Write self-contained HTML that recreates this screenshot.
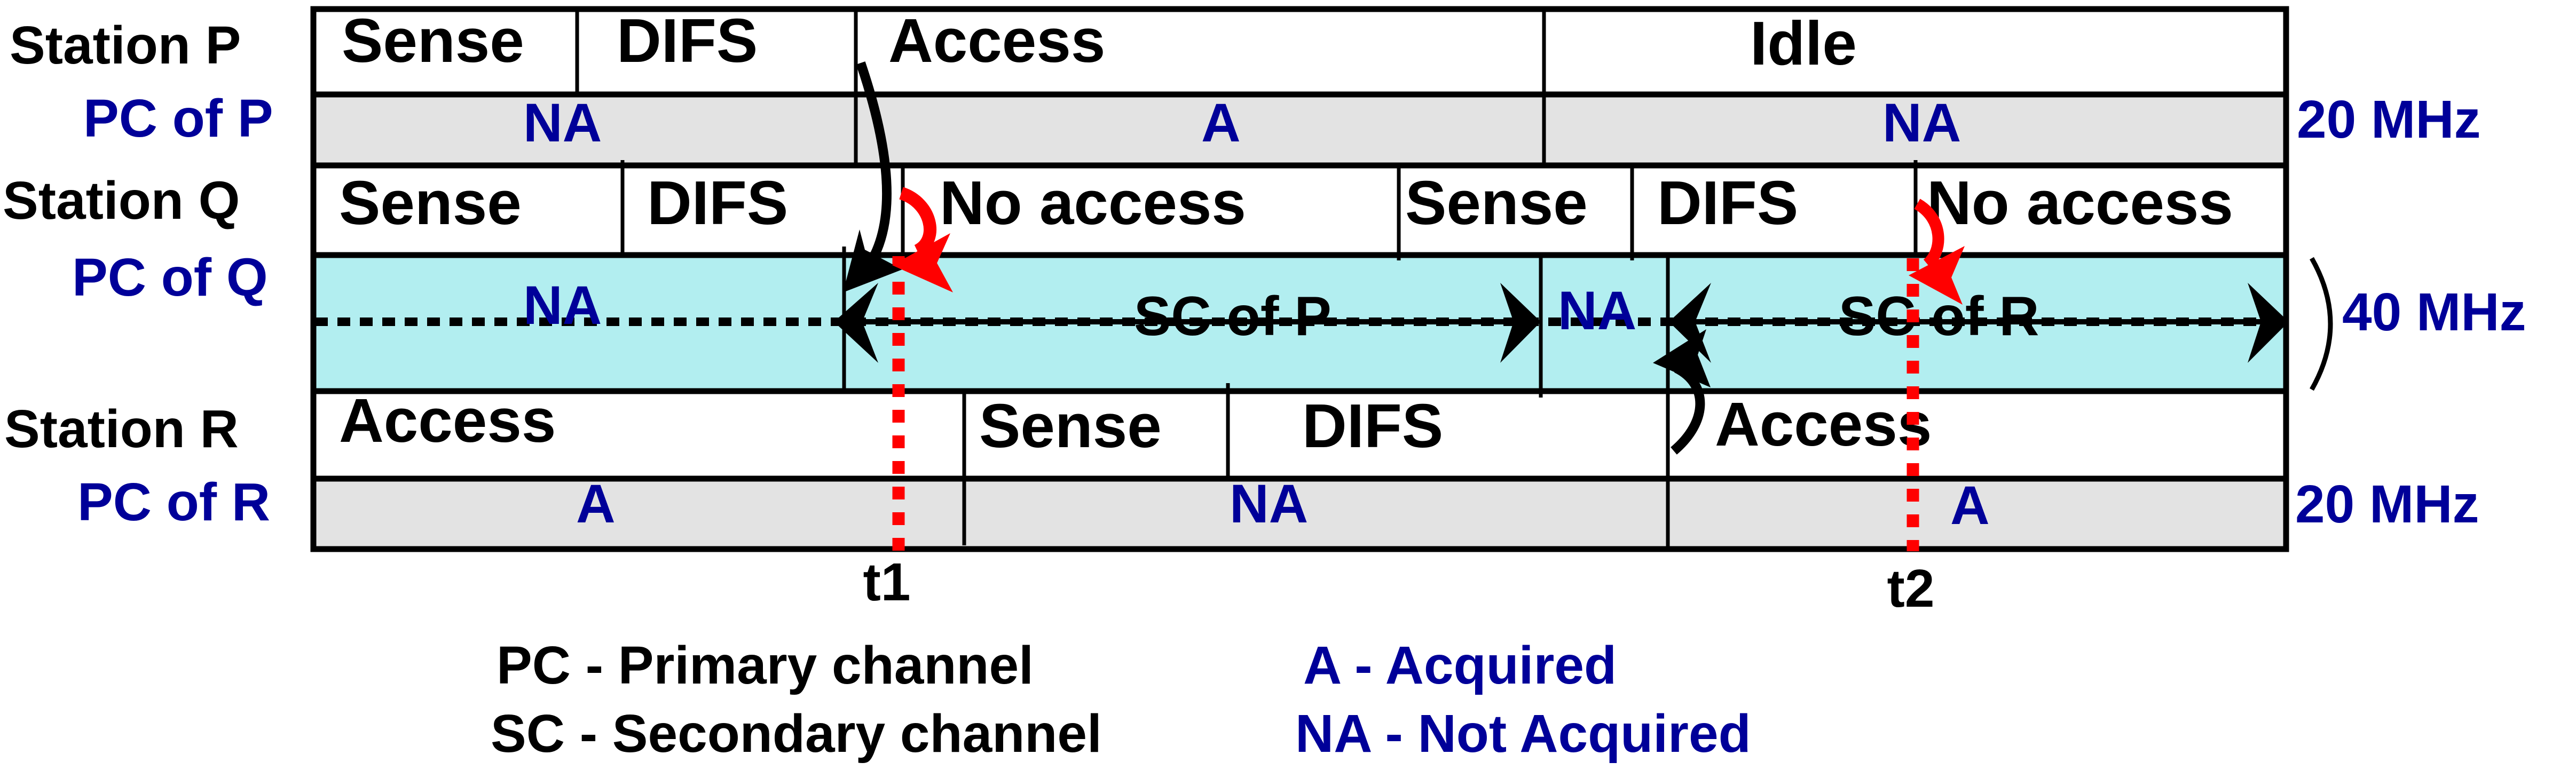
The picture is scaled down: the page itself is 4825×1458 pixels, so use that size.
<!DOCTYPE html>
<html><head><meta charset="utf-8"><style>
html,body{margin:0;padding:0;background:#fff;}
svg{display:block;}
text{font-family:"Liberation Sans",sans-serif;font-weight:bold;}
.k{fill:#000;font-size:116px;}
.s{fill:#000;font-size:100px;}
.b{fill:#000099;font-size:102px;}
</style></head><body>
<svg width="4825" height="1458" viewBox="0 0 4825 1458" xmlns="http://www.w3.org/2000/svg">
<rect x="582" y="13" width="3705" height="1020" fill="#fff"/>
<rect x="582" y="177" width="3705" height="133" fill="#e3e3e3"/>
<rect x="582" y="478" width="3705" height="255" fill="#b2eef0"/>
<rect x="582" y="897" width="3705" height="136" fill="#e3e3e3"/>
<g stroke="#000" stroke-width="11" fill="none">
<rect x="587" y="17" width="3695" height="1012"/>
<line x1="582" y1="177" x2="4287" y2="177"/>
<line x1="582" y1="310" x2="4287" y2="310"/>
<line x1="582" y1="478" x2="4287" y2="478"/>
<line x1="582" y1="733" x2="4287" y2="733"/>
<line x1="582" y1="897" x2="4287" y2="897"/>
</g>
<g stroke="#000" stroke-width="7">
<line x1="1081" y1="13" x2="1081" y2="177"/>
<line x1="1603" y1="13" x2="1603" y2="310"/>
<line x1="2892" y1="13" x2="2892" y2="310"/>
<line x1="1166" y1="300" x2="1166" y2="478"/>
<line x1="1691" y1="310" x2="1691" y2="478"/>
<line x1="2620" y1="310" x2="2620" y2="488"/>
<line x1="3057" y1="310" x2="3057" y2="488"/>
<line x1="3588" y1="300" x2="3588" y2="478"/>
<line x1="1581" y1="462" x2="1581" y2="733"/>
<line x1="2886" y1="478" x2="2886" y2="745"/>
<line x1="3124" y1="478" x2="3124" y2="1033"/>
<line x1="1806" y1="733" x2="1806" y2="1022"/>
<line x1="2300" y1="718" x2="2300" y2="897"/>
</g>
<line x1="590" y1="603" x2="4287" y2="603" stroke="#000" stroke-width="16" stroke-dasharray="24 18"/>
<g stroke="#000" stroke-width="10">
<line x1="1600" y1="603" x2="2870" y2="603"/>
<line x1="3140" y1="603" x2="4270" y2="603"/>
</g>
<g fill="#000">
<polygon points="1562,603 1645,530 1615,603 1645,680"/>
<polygon points="2886,603 2810,530 2835,603 2810,680"/>
<polygon points="3126,603 3205,530 3175,603 3205,680"/>
<polygon points="4287,603 4210,530 4235,603 4210,680"/>
</g>
<text class="s" x="18" y="119">Station P</text>
<text class="b" x="156" y="256" style="font-size:100px">PC of P</text>
<text class="s" x="5" y="410">Station Q</text>
<text class="b" x="135" y="554" style="font-size:100px">PC of Q</text>
<text class="s" x="8" y="838">Station R</text>
<text class="b" x="145" y="975" style="font-size:100px">PC of R</text>

<text class="k" x="640" y="116">Sense</text>
<text class="k" x="1155" y="116">DIFS</text>
<text class="k" x="1664" y="116">Access</text>
<text class="k" x="3278" y="121">Idle</text>
<text class="b" x="980" y="265">NA</text>
<text class="b" x="2250" y="265">A</text>
<text class="b" x="3526" y="265">NA</text>

<text class="k" x="635" y="420">Sense</text>
<text class="k" x="1212" y="420">DIFS</text>
<text class="k" x="1760" y="420">No access</text>
<text class="k" x="2632" y="420">Sense</text>
<text class="k" x="3104" y="420">DIFS</text>
<text class="k" x="3609" y="420">No access</text>

<text class="b" x="980" y="607">NA</text>
<text class="s" x="2124" y="628" style="font-size:104px">SC of P</text>
<text class="b" x="2918" y="617">NA</text>
<text class="s" x="3444" y="628" style="font-size:104px">SC of R</text>

<text class="k" x="635" y="828">Access</text>
<text class="k" x="1834" y="838">Sense</text>
<text class="k" x="2439" y="838">DIFS</text>
<text class="k" x="3212" y="835">Access</text>

<text class="b" x="1079" y="979">A</text>
<text class="b" x="2303" y="979">NA</text>
<text class="b" x="3653" y="982">A</text>

<text class="b" x="4302" y="258" style="font-size:100px">20 MHz</text>
<text class="b" x="4387" y="619" style="font-size:100px">40 MHz</text>
<text class="b" x="4299" y="979" style="font-size:100px">20 MHz</text>

<text class="s" x="1661" y="1125" text-anchor="middle">t1</text>
<text class="s" x="3579" y="1137" text-anchor="middle">t2</text>

<text class="s" x="930" y="1281" style="font-size:100px">PC - Primary channel</text>
<text class="s" x="919" y="1409" style="font-size:100px">SC - Secondary channel</text>
<text class="b" x="2441" y="1281" style="font-size:100px">A - Acquired</text>
<text class="b" x="2426" y="1409" style="font-size:100px">NA - Not Acquired</text>

<path d="M4330,484 Q4400,607 4330,730" stroke="#000" stroke-width="9" fill="none"/>

<g stroke="#ff0000" stroke-width="23" stroke-dasharray="24 24">
<line x1="1683" y1="480" x2="1683" y2="1033"/>
<line x1="3583" y1="484" x2="3583" y2="1033"/>
</g>

<path d="M1612,118 C1660,260 1690,420 1618,510" stroke="#000" stroke-width="18" fill="none"/>
<polygon points="1579,548 1610,430 1620,468 1690,505" fill="#000"/>
<path d="M1688,362 C1745,380 1760,450 1718,470" stroke="#ff0000" stroke-width="24" fill="none"/>
<polygon points="1671,497 1780,437 1755,493 1785,548" fill="#ff0000"/>
<path d="M3591,382 C3640,410 3640,470 3610,495" stroke="#ff0000" stroke-width="22" fill="none"/>
<polygon points="3575,516 3680,461 3655,520 3676,571" fill="#ff0000"/>
<path d="M3135,845 C3200,790 3200,720 3140,690" stroke="#000" stroke-width="18" fill="none"/>
<polygon points="3096,680 3196,617 3180,665 3204,726" fill="#000"/>
</svg>
</body></html>
